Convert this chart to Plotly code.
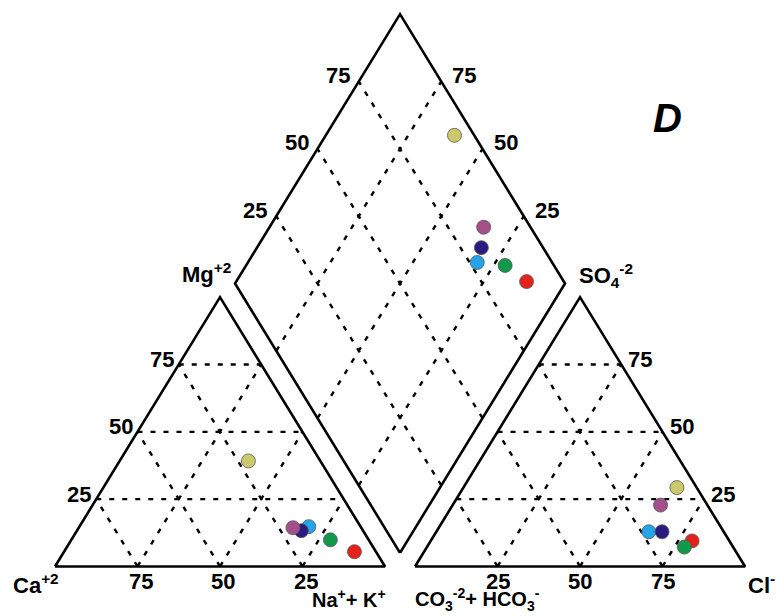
import numpy as np
import plotly.graph_objects as go

# ---------------- data (percent of meq) ----------------
sample_colors = ["#cbc96c", "#e3231b", "#10994a", "#22a3ea", "#2b1b7e", "#a24f8c"]
ca   = [21.8,  6.5, 11.6, 15.7, 18.7, 20.7]
mg   = [39.2,  5.5,  9.9, 14.8, 13.3, 14.4]
nak  = [39.0, 88.0, 78.5, 69.5, 68.0, 64.9]
hco3 = [ 6.0, 11.3, 14.8, 22.7, 18.7, 14.2]
so4  = [29.3,  9.5,  7.2, 12.9, 12.9, 22.8]
cl   = [64.7, 79.2, 78.0, 64.4, 68.4, 63.0]
grid_ticks = [25, 50, 75]
cation_bottom_labels = ["75", "50", "25"]   # Ca % along the base
anion_bottom_labels = ["25", "50", "75"]    # Cl % along the base

# ---------------- geometry ----------------
H = np.sqrt(3) / 2
OFF = 109.1            # x offset of anion triangle
BX, BY = OFF / 2 + 50, 4.4   # bottom vertex of the diamond


def cat_xy(n, m):
    return n + m / 2, m * H


def an_xy(c, s):
    return OFF + c + s / 2, s * H


def dia_xy(a, b):
    # a = Ca+Mg %, b = SO4+Cl %
    return BX + 0.5 * (b - a), BY + H * (a + b)


fig = go.Figure()
DASH = dict(color="black", width=2.4, dash="5px,8px")
SOLID = dict(color="black", width=2.6)


def seg(p, q, line):
    fig.add_trace(go.Scatter(x=[p[0], q[0]], y=[p[1], q[1]], mode="lines",
                             line=line, hoverinfo="skip", showlegend=False))


# grid lines
for t in grid_ticks:
    # cation triangle
    seg(cat_xy(0, t), cat_xy(100 - t, t), DASH)          # Mg = t
    seg(cat_xy(t, 0), cat_xy(t, 100 - t), DASH)          # Na = t
    seg(cat_xy(100 - t, 0), cat_xy(0, 100 - t), DASH)    # Ca = t
    # anion triangle
    seg(an_xy(0, t), an_xy(100 - t, t), DASH)
    seg(an_xy(t, 0), an_xy(t, 100 - t), DASH)
    seg(an_xy(100 - t, 0), an_xy(0, 100 - t), DASH)
    # diamond
    seg(dia_xy(t, 0), dia_xy(t, 100), DASH)
    seg(dia_xy(0, t), dia_xy(100, t), DASH)

# outlines
for f, pts in [(cat_xy, [(0, 0), (100, 0), (0, 100), (0, 0)]),
               (an_xy, [(0, 0), (100, 0), (0, 100), (0, 0)]),
               (dia_xy, [(0, 0), (100, 0), (100, 100), (0, 100), (0, 0)])]:
    xy = [f(*p) for p in pts]
    fig.add_trace(go.Scatter(x=[p[0] for p in xy], y=[p[1] for p in xy], mode="lines",
                             line=SOLID, hoverinfo="skip", showlegend=False))

# sample points
for i, col in enumerate(sample_colors):
    px = [cat_xy(nak[i], mg[i]), an_xy(cl[i], so4[i]),
          dia_xy(100 - nak[i], so4[i] + cl[i])]
    fig.add_trace(go.Scatter(x=[p[0] for p in px], y=[p[1] for p in px], mode="markers",
                             marker=dict(size=14, color=col,
                                         line=dict(color="#555555", width=0.8)),
                             hoverinfo="skip", showlegend=False))

FONT = dict(family="Liberation Sans, Arial", size=22, color="black", weight="bold")


def label(xy, text, xanchor="center", xshift=0, yshift=0, font=FONT):
    fig.add_annotation(x=xy[0], y=xy[1], xref="x", yref="y", text=text,
                       showarrow=False, xanchor=xanchor, yanchor="middle",
                       xshift=xshift, yshift=yshift, font=font)


for t, lab in zip(grid_ticks, cation_bottom_labels):
    label(cat_xy(t, 0), lab, xshift=3, yshift=-15)
for t in grid_ticks:
    label(cat_xy(0, t), str(t), xanchor="right", xshift=-3, yshift=5)
for t, lab in zip(grid_ticks, anion_bottom_labels):
    label(an_xy(t, 0), lab, xshift=0, yshift=-15)
for t in grid_ticks:
    label(an_xy(100 - t, t), str(t), xanchor="left", xshift=5, yshift=5)
    label(dia_xy(100, t), str(t), xanchor="right", xshift=-7, yshift=6)
    label(dia_xy(t, 100), str(t), xanchor="left", xshift=9, yshift=6)

BIG = dict(FONT, size=22)
SMALLER = dict(FONT, size=20)
label(cat_xy(0, 0), "Ca<sup>+2</sup>", xanchor="right", xshift=6, yshift=-17, font=BIG)
label(cat_xy(100, 0), "Na<sup>+</sup>+ K<sup>+</sup>", xanchor="right", xshift=3, yshift=-32, font=SMALLER)
label(an_xy(0, 0), "CO<sub>3</sub><sup>-2</sup>+ HCO<sub>3</sub><sup>-</sup>", xanchor="left",
      xshift=-2, yshift=-33, font=SMALLER)
label(an_xy(100, 0), "Cl<sup>-</sup>", xanchor="left", xshift=1, yshift=-17, font=BIG)
label(dia_xy(100, 0), "Mg<sup>+2</sup>", xanchor="right", xshift=-2, yshift=10, font=BIG)
label(dia_xy(0, 100), "SO<sub>4</sub><sup>-2</sup>", xanchor="left", xshift=12, yshift=8, font=BIG)

fig.add_annotation(x=667 / 776, y=1 - 118 / 616, xref="paper", yref="paper", text="<i>D</i>",
                   showarrow=False, xanchor="center", yanchor="middle",
                   font=dict(family="Liberation Sans, Arial", size=40, color="black", weight="bold"))

fig.update_layout(
    width=776, height=616, margin=dict(l=0, r=0, t=0, b=0),
    paper_bgcolor="white", plot_bgcolor="white",
    xaxis=dict(range=[-55 / 3.3, (776 - 55) / 3.3], visible=False, fixedrange=True),
    yaxis=dict(range=[(566.5 - 616) / 3.11, 566.5 / 3.11], visible=False, fixedrange=True),
)
fig.write_html("out.html")
